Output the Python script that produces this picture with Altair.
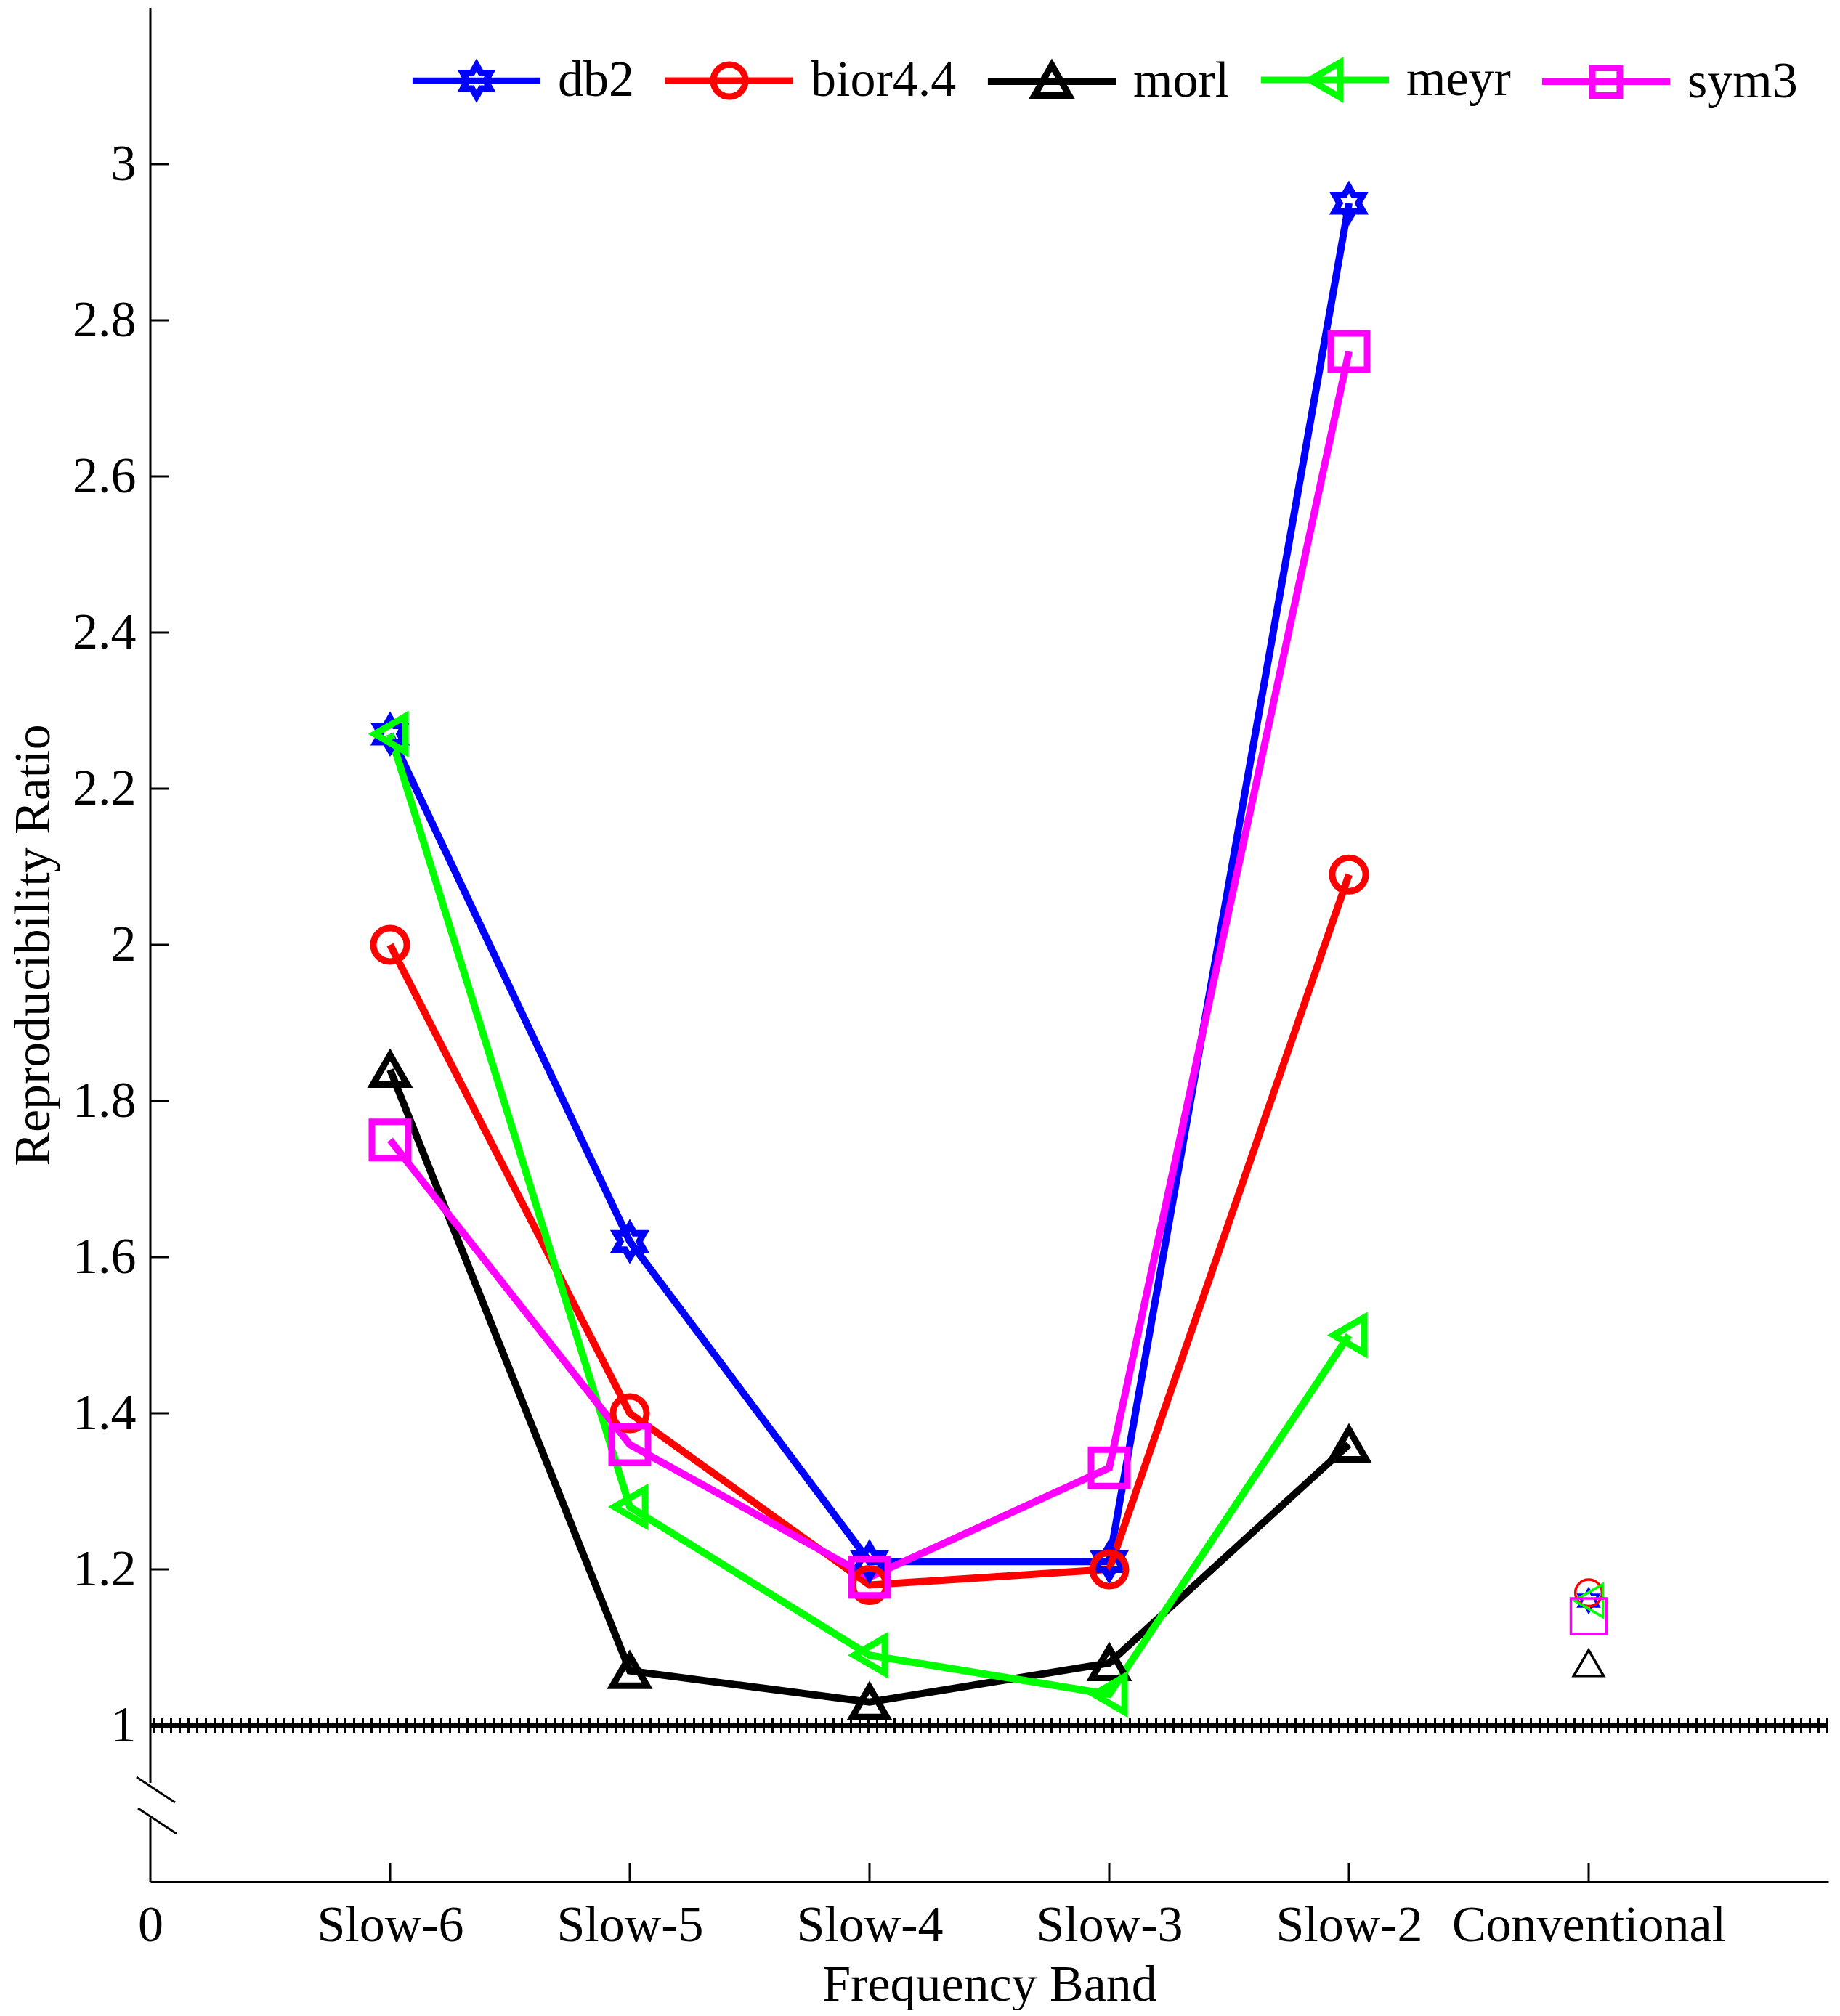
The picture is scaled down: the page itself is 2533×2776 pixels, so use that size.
import altair as alt
import pandas as pd

# ---------------- data ----------------
bands = ["Slow-6", "Slow-5", "Slow-4", "Slow-3", "Slow-2", "Conventional"]
series_names = ["db2", "bior4.4", "morl", "meyr", "sym3"]
db2 = [2.27, 1.62, 1.21, 1.21, 2.95, 1.16]
bior44 = [2.00, 1.40, 1.18, 1.20, 2.09, 1.17]
morl = [1.84, 1.07, 1.03, 1.08, 1.36, 1.08]
meyr = [2.27, 1.28, 1.09, 1.04, 1.50, 1.16]
sym3 = [1.75, 1.36, 1.19, 1.33, 2.76, 1.14]
reference_level = [1.0]
y_tick_values = [1.0, 1.2, 1.4, 1.6, 1.8, 2.0, 2.2, 2.4, 2.6, 2.8, 3.0]
x_tick_labels = ["0"] + bands
colors = ["#0000ff", "#ff0000", "#000000", "#00ff00", "#ff00ff"]

series_values = [db2, bior44, morl, meyr, sym3]

rows = []
for name, vals in zip(series_names, series_values):
    for i, (b, v) in enumerate(zip(bands, vals)):
        rows.append({"series": name, "band": b, "pos": i + 1, "value": v,
                     "kind": "conv" if b == "Conventional" else "band"})
df = pd.DataFrame(rows)
df_bands = df[df["kind"] == "band"]
df_conv = df[df["kind"] == "conv"]
df_ref = pd.DataFrame({"level": reference_level})
df_yt = pd.DataFrame({"tick": y_tick_values})
df_xt = pd.DataFrame({"pos": list(range(1, len(bands) + 1))})
df_leg = pd.DataFrame({"series": series_names})

# ---------------- style ----------------
W, H = 2310, 2580
FONT = "Liberation Serif"
FS = 70

hexagram = ("M0,-1L0.2887,-0.5L0.866,-0.5L0.577,0L0.866,0.5L0.2887,0.5L0,1"
            "L-0.2887,0.5L-0.866,0.5L-0.577,0L-0.866,-0.5L-0.2887,-0.5Z")
plot_shapes = [hexagram, "circle", "triangle-up", "triangle-left", "square"]

L = 3.67
leg_line = f"M-{L},0L{L},0"
legend_shapes = [
    leg_line + "M0,-0.9L0.26,-0.45L0.78,-0.45L0.52,0L0.78,0.45L0.26,0.45L0,0.9"
               "L-0.26,0.45L-0.78,0.45L-0.52,0L-0.78,-0.45L-0.26,-0.45Z",
    leg_line + "M0.92,0A0.92,0.92,0,1,1,-0.92,0A0.92,0.92,0,1,1,0.92,0Z",
    leg_line + "M0,-0.95L-1,0.8L1,0.8Z",
    leg_line + "M-0.87,0L0.87,-1L0.87,1Z",
    leg_line + "M-0.79,-0.79L0.79,-0.79L0.79,0.79L-0.79,0.79Z",
]

label_expr = "[" + ",".join("'" + s + "'" for s in x_tick_labels) + "][datum.value]"

xscale = alt.Scale(domain=[0, 7], nice=False, zero=False)
yscale = alt.Scale(domain=[0.8, 3.2], nice=False, zero=False)

xaxis = alt.Axis(values=list(range(0, 7)), labelExpr=label_expr, ticks=False, tickSize=0,
                 domain=True, domainColor="black", domainWidth=3, grid=False,
                 labelFlush=False, labelPadding=26, labelFontSize=FS, labelFont=FONT,
                 labelColor="black", labelLimit=1000, labelOverlap=False,
                 title="Frequency Band", titleFontSize=FS,
                 titleFont=FONT, titleColor="black", titleFontWeight="normal",
                 titleY=108)
yaxis = alt.Axis(values=y_tick_values, format=".1~f", ticks=False, tickSize=0,
                 domain=False, grid=False, labelPadding=20, labelFontSize=FS,
                 labelFont=FONT, labelColor="black", labelLimit=1000, labelOverlap=False,
                 title="Reproducibility Ratio",
                 titleFontSize=FS, titleFont=FONT, titleColor="black",
                 titleFontWeight="normal", titleX=-125, titleY=H / 2)


def xe(field):
    return alt.X(field, type="quantitative", scale=xscale, axis=xaxis)


def ye(field):
    return alt.Y(field, type="quantitative", scale=yscale, axis=yaxis)


color_enc = alt.Color("series:N", scale=alt.Scale(domain=series_names, range=colors), legend=None)

# reference band at 1 (asterisk-like dense line)
ref_core = alt.Chart(df_ref).mark_rule(color="black", strokeWidth=8).encode(y=ye("level"))
ref_teeth = alt.Chart(df_ref).mark_rule(color="black", strokeWidth=20,
                                        strokeDash=[3, 9]).encode(y=ye("level"))

lines = alt.Chart(df_bands).mark_line(strokeWidth=10).encode(
    x=xe("pos"), y=ye("value"), color=color_enc, detail="series:N")

pts_main = alt.Chart(df_bands).mark_point(filled=False, strokeWidth=9, opacity=1).encode(
    x=xe("pos"), y=ye("value"), color=color_enc,
    shape=alt.Shape("series:N", scale=alt.Scale(domain=series_names, range=plot_shapes), legend=None),
    size=alt.Size("series:N", scale=alt.Scale(domain=series_names,
                                              range=[2000, 2500, 3000, 3000, 1750]), legend=None))

pts_conv = alt.Chart(df_conv).mark_point(filled=False, strokeWidth=3.5, opacity=1).encode(
    x=xe("pos"), y=ye("value"), color=color_enc,
    shape=alt.Shape("series:N", scale=alt.Scale(domain=series_names, range=plot_shapes), legend=None),
    size=alt.Size("series:N", scale=alt.Scale(domain=series_names,
                                              range=[1000, 2400, 3300, 3300, 1450]), legend=None))

legend_obj = alt.Legend(orient="none", legendX=414, legendY=64, direction="horizontal",
                        title=None, labelFont=FONT, labelFontSize=FS, labelColor="black",
                        symbolSize=2304, symbolStrokeWidth=9, labelOffset=77,
                        columnPadding=24, padding=0, labelLimit=1000, symbolOpacity=1)
legend_layer = alt.Chart(df_leg).transform_filter("false").mark_point(
    filled=False, strokeWidth=9).encode(
    color=alt.Color("series:N", scale=alt.Scale(domain=series_names, range=colors), legend=legend_obj),
    shape=alt.Shape("series:N", scale=alt.Scale(domain=series_names, range=legend_shapes),
                    legend=legend_obj))

# inward ticks
ytick_marks = alt.Chart(df_yt).mark_rule(color="black", strokeWidth=3).encode(
    y=ye("tick"), x=alt.value(0), x2=alt.value(26))
xtick_marks = alt.Chart(df_xt).mark_rule(color="black", strokeWidth=3).encode(
    x=xe("pos"), y=alt.value(H), y2=alt.value(H - 26))

# broken y axis line and break marks
yline_top = alt.Chart(df_ref).mark_rule(color="black", strokeWidth=3).encode(
    x=alt.value(0), y=alt.value(0), y2=alt.value(2444))
yline_bot = alt.Chart(df_ref).mark_rule(color="black", strokeWidth=3).encode(
    x=alt.value(0), y=alt.value(2492), y2=alt.value(H))
slash1 = alt.Chart(df_ref).mark_rule(color="black", strokeWidth=3).encode(
    x=alt.value(-19), x2=alt.value(34), y=alt.value(2436), y2=alt.value(2471))
slash2 = alt.Chart(df_ref).mark_rule(color="black", strokeWidth=3).encode(
    x=alt.value(-17), x2=alt.value(36), y=alt.value(2479), y2=alt.value(2514))

chart = alt.layer(
    ref_core, ref_teeth, lines, pts_main, pts_conv, legend_layer,
    ytick_marks, xtick_marks, yline_top, yline_bot, slash1, slash2
).resolve_scale(
    shape="independent", color="independent", size="independent"
).properties(
    width=W, height=H,
    autosize=alt.AutoSizeParams(type="none"),
    padding={"left": 199, "top": 3, "right": 8, "bottom": 177},
    background="white",
).configure(font=FONT).configure_view(strokeWidth=0, stroke="transparent")

chart.save("out.html", embed_options={"renderer": "svg", "actions": False})
